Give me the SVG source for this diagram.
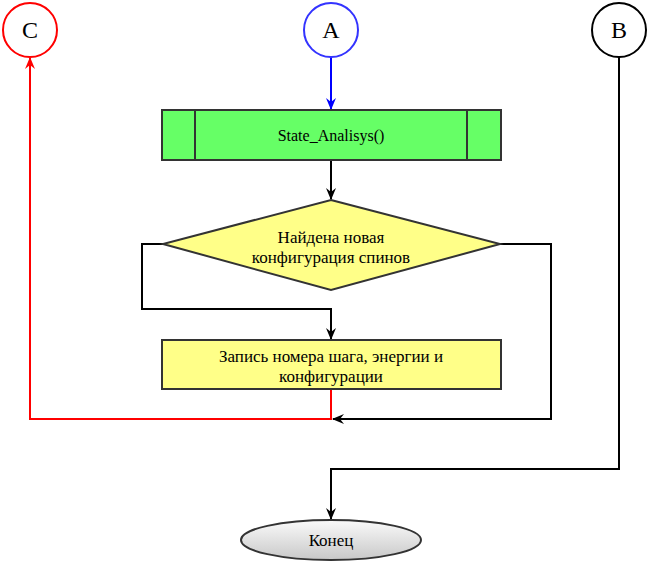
<svg xmlns="http://www.w3.org/2000/svg" width="648" height="563" viewBox="0 0 648 563">
<style>
text{font-family:"Liberation Serif","Times New Roman",serif;fill:#000;text-anchor:middle}
.t{font-size:17px}
.big{font-size:24px}
.shape{stroke:#333;stroke-width:2}
.con{fill:none;stroke-width:2}
</style>
<defs>
<marker id="ab" markerWidth="10" markerHeight="12" refX="5" refY="11" markerUnits="userSpaceOnUse" viewBox="0 0 10 12">
<path d="M0,0 L5,4 L10,0 L5,12 Z" fill="#000"/>
</marker>
<marker id="ablue" markerWidth="10" markerHeight="12" refX="5" refY="11" markerUnits="userSpaceOnUse" viewBox="0 0 10 12">
<path d="M0,0 L5,4 L10,0 L5,12 Z" fill="#00f"/>
</marker>
<marker id="ared" markerWidth="10" markerHeight="12" refX="5" refY="1" markerUnits="userSpaceOnUse" viewBox="0 0 10 12">
<path d="M0,12 L5,8 L10,12 L5,0 Z" fill="#f00"/>
</marker>
<marker id="aleft" markerWidth="12" markerHeight="10" refX="1" refY="5" markerUnits="userSpaceOnUse" viewBox="0 0 12 10">
<path d="M12,0 L8,5 L12,10 L0,5 Z" fill="#000"/>
</marker>
<linearGradient id="g" x1="0" y1="0" x2="0" y2="1">
<stop offset="0" stop-color="#fafafa"/>
<stop offset="1" stop-color="#c8c8c8"/>
</linearGradient>
</defs>
<g id="connectors">
<path class="con" stroke="#00f" d="M331,57 L331,109" marker-end="url(#ablue)"/>
<path class="con" stroke="#000" d="M331,160 L331,199" marker-end="url(#ab)"/>
<path class="con" stroke="#000" d="M163,244 L142,244 L142,309 L331,309 L331,339" marker-end="url(#ab)"/>
<path class="con" stroke="#000" d="M500,244 L551,244 L551,419 L333,419" marker-end="url(#aleft)"/>
<path class="con" stroke="#f00" d="M331,389 L331,419 L30,419 L30,58" marker-end="url(#ared)"/>
<path class="con" stroke="#000" d="M619,57 L619,469 L331,469 L331,519" marker-end="url(#ab)"/>
</g>
<g id="C"><circle cx="30" cy="30" r="27" fill="#fff" stroke="#f00" stroke-width="2"/><text class="big" x="30" y="38">C</text></g>
<g id="A"><circle cx="331" cy="30" r="27" fill="#fff" stroke="#33f" stroke-width="2"/><text class="big" x="331" y="38">A</text></g>
<g id="B"><circle cx="619" cy="30" r="27" fill="#fff" stroke="#000" stroke-width="2"/><text class="big" x="619" y="38">B</text></g>
<g id="process">
<rect class="shape" x="162" y="110" width="339" height="50" fill="#66ff66"/>
<line class="shape" x1="195" y1="110" x2="195" y2="160"/>
<line class="shape" x1="467" y1="110" x2="467" y2="160"/>
<text class="t" x="331" y="141" style="font-size:16px">State_Analisys()</text>
</g>
<g id="decision">
<polygon class="shape" points="331,200 500,244 331,290 163,244" fill="#ffff88"/>
<text class="t" x="331" y="243">Найдена новая</text>
<text class="t" x="331" y="263">конфигурация спинов</text>
</g>
<g id="write">
<rect class="shape" x="162" y="340" width="339" height="49" fill="#ffff88"/>
<text class="t" x="331" y="362">Запись номера шага, энергии и</text>
<text class="t" x="331" y="382">конфигурации</text>
</g>
<g id="end">
<ellipse class="shape" cx="331" cy="540" rx="90" ry="20" fill="url(#g)"/>
<text class="t" x="331" y="546">Конец</text>
</g>
</svg>
